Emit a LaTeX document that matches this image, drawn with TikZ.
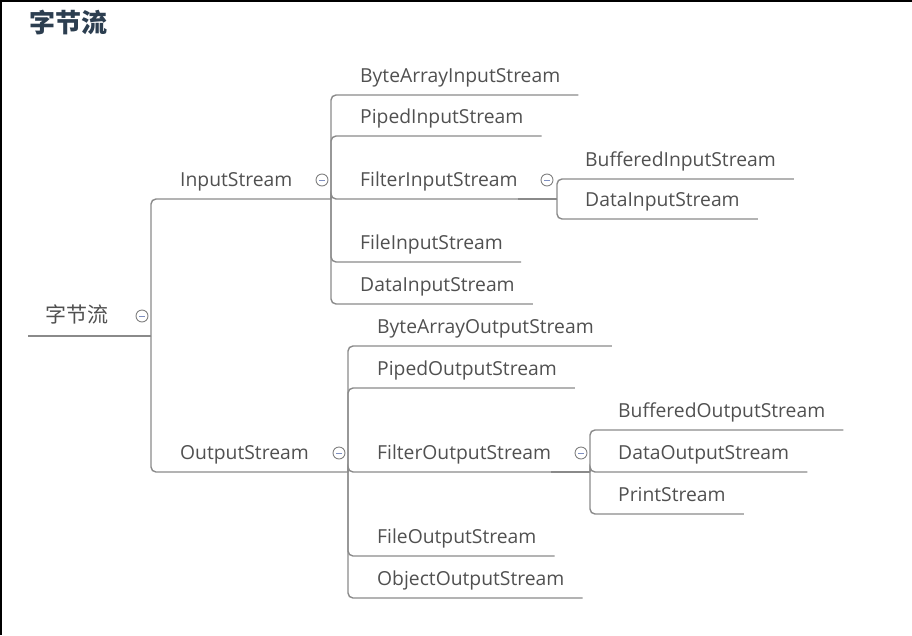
\documentclass[tikz,border=0pt]{standalone}
\usepackage{fontspec}
\setmainfont{Open Sans}
\newfontfamily\cjk{Noto Sans CJK SC}
\usepackage{tikz}
\usetikzlibrary{positioning,calc}
\definecolor{txtgray}{HTML}{505050}
\definecolor{linegray}{HTML}{8A8A8A}
\definecolor{headblue}{HTML}{2C3E50}
\definecolor{minusblue}{HTML}{7F8FC0}

\begin{document}
\begin{tikzpicture}[x=1pt, y=-1pt,
    topic/.style={anchor=south west, inner sep=0, text depth=12pt, text=txtgray, font=\fontsize{19.3}{23}\selectfont},
    uline/.style={draw=linegray, line width=1.4pt, rounded corners=5pt},
    fold/.style={circle, draw=gray, fill=white, line width=0.9pt, minimum size=12pt, inner sep=0,
      path picture={\draw[minusblue, line width=0.9pt] ([xshift=-3pt]path picture bounding box.center) -- ([xshift=3pt]path picture bounding box.center);}}]
    \useasboundingbox (0,0) rectangle (912,635);
    \draw[line width=2pt] (1,635) -- (1,1) -- (912,1);
    \node[anchor=west, text=headblue, font=\cjk\bfseries\fontsize{26}{30}\selectfont] (head) at (26,22) {字节流};

    % junctions
    \coordinate (jroot) at (151,336);
    \coordinate (jin) at (331,199);
    \coordinate (jout) at (348,472);
    \coordinate (jfis) at (557,199);
    \coordinate (jfos) at (590,472);

    \node[topic, text depth=13pt, font=\cjk\fontsize{21}{24}\selectfont] (root) at (45,336) {字节流};
    \draw[uline] ([xshift=-17pt]root.south west) -- (jroot);

    \node[topic] (in) at (180,199) {InputStream};
    \node[topic] (out) at (180,472) {OutputStream};
    \draw[uline] (jroot) |- (jin);
    \draw[uline] (jroot) |- (jout);

    \foreach \name/\txt/\uy in {bais/ByteArrayInputStream/95, pis/PipedInputStream/136, fis/FilterInputStream/199, fileis/FileInputStream/262, dis/DataInputStream/304}
    {
      \node[topic] (\name) at (360,\uy) {\txt};
      \draw[uline] (jin) |- ([xshift=18pt]\name.south east);
    }
    \draw[uline] (fis.south east) -- (jfis);
    \foreach \name/\txt/\uy in {bfis/BufferedInputStream/179, dfis/DataInputStream/219}
    {
      \node[topic] (\name) at (585,\uy) {\txt};
      \draw[uline] (jfis) |- ([xshift=18pt]\name.south east);
    }

    \foreach \name/\txt/\uy in {baos/ByteArrayOutputStream/346, pos/PipedOutputStream/388, fos/FilterOutputStream/472, fileos/FileOutputStream/556, oos/ObjectOutputStream/598}
    {
      \node[topic] (\name) at (377,\uy) {\txt};
      \draw[uline] (jout) |- ([xshift=18pt]\name.south east);
    }
    \draw[uline] (fos.south east) -- (jfos);
    \foreach \name/\txt/\uy in {bfos/BufferedOutputStream/430, dfos/DataOutputStream/472, ps/PrintStream/514}
    {
      \node[topic] (\name) at (618,\uy) {\txt};
      \draw[uline] (jfos) |- ([xshift=18pt]\name.south east);
    }

    % fold marks
    \node[fold] (froot) at ([xshift=-9pt,yshift=20pt]jroot) {};
    \node[fold] (fin) at ([xshift=-9pt,yshift=19pt]jin) {};
    \node[fold] (ffis) at ([xshift=-10pt,yshift=19pt]jfis) {};
    \node[fold] (fout) at ([xshift=-9pt,yshift=19pt]jout) {};
    \node[fold] (ffos) at ([xshift=-9pt,yshift=19pt]jfos) {};
\end{tikzpicture}
\end{document}
